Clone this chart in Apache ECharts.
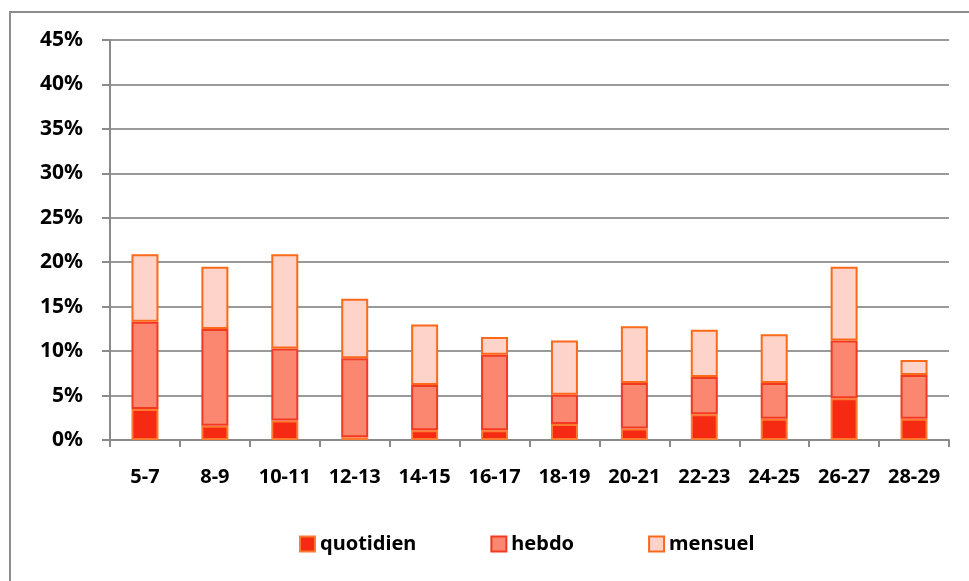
<!DOCTYPE html>
<html>
<head>
<meta charset="utf-8">
<script src="https://cdn.jsdelivr.net/npm/echarts@6/dist/echarts.min.js"></script>
<style>
  html, body { margin: 0; padding: 0; background: #fff; }
  #chart { width: 969px; height: 581px; }
</style>
</head>
<body>
<div id="chart"></div>
<script>
// --- Données (en %) ---
const categories = ["5-7", "8-9", "10-11", "12-13", "14-15", "16-17", "18-19", "20-21", "22-23", "24-25", "26-27", "28-29"];
const quotidien = [3.5, 1.6, 2.2, 0.3, 1.1, 1.1, 1.8, 1.3, 2.9, 2.4, 4.7, 2.4];
const hebdo = [9.8, 10.9, 8.1, 8.9, 5.1, 8.5, 3.3, 5.1, 4.2, 4.0, 6.5, 4.9];
const mensuel = [7.6, 7.0, 10.6, 6.7, 6.8, 2.0, 6.1, 6.4, 5.3, 5.5, 8.3, 1.7];

const police = "Noto Sans";

var myChart = echarts.init(document.getElementById("chart"));

function serie(nom, data, fond, bord) {
    return {
        name: nom,
        type: "bar",
        stack: "total",
        barWidth: 27,
        data: data,
        itemStyle: {
            color: fond,
            borderColor: bord,
            borderWidth: 2
        },
        emphasis: { disabled: true }
    };
}

myChart.setOption({
    animation: false,
    graphic: [
        {
            type: "rect",
            shape: { x: 10, y: 12, width: 1000, height: 600 },
            style: { fill: "none", stroke: "#8c8c8c", lineWidth: 2 },
            silent: true
        }
    ],
    grid: { left: 110, right: 20, top: 40, bottom: 141 },
    legend: {
        left: 294,
        top: 529,
        itemWidth: 15,
        itemHeight: 15,
        itemGap: 74,
        icon: "rect",
        textStyle: { fontFamily: police, fontWeight: "bold", fontSize: 20, color: "#000" },
        data: ["quotidien", "hebdo", "mensuel"]
    },
    xAxis: {
        type: "category",
        data: categories,
        axisLine: { lineStyle: { color: "#8a8a8a", width: 2 } },
        axisTick: { show: true, length: 7, lineStyle: { color: "#8a8a8a", width: 2 } },
        axisLabel: { interval: 0, margin: 27, fontFamily: police, fontWeight: "bold", fontSize: 20, color: "#000" }
    },
    yAxis: {
        type: "value",
        min: 0,
        max: 45,
        interval: 5,
        axisLine: { show: true, lineStyle: { color: "#8a8a8a", width: 2 } },
        axisTick: { show: true, length: 8, lineStyle: { color: "#8a8a8a", width: 2 } },
        splitLine: { lineStyle: { color: "#9a9a9a", width: 2 } },
        axisLabel: {
            margin: 27,
            formatter: "{value}%",
            fontFamily: police, fontWeight: "bold", fontSize: 21, color: "#000"
        }
    },
    series: [
        serie("quotidien", quotidien, "#f62a12", "#ff7a30"),
        serie("hebdo", hebdo, "#fb8770", "#f23a22"),
        serie("mensuel", mensuel, "#fed3ca", "#fb6a1a")
    ]
});
</script>
</body>
</html>
